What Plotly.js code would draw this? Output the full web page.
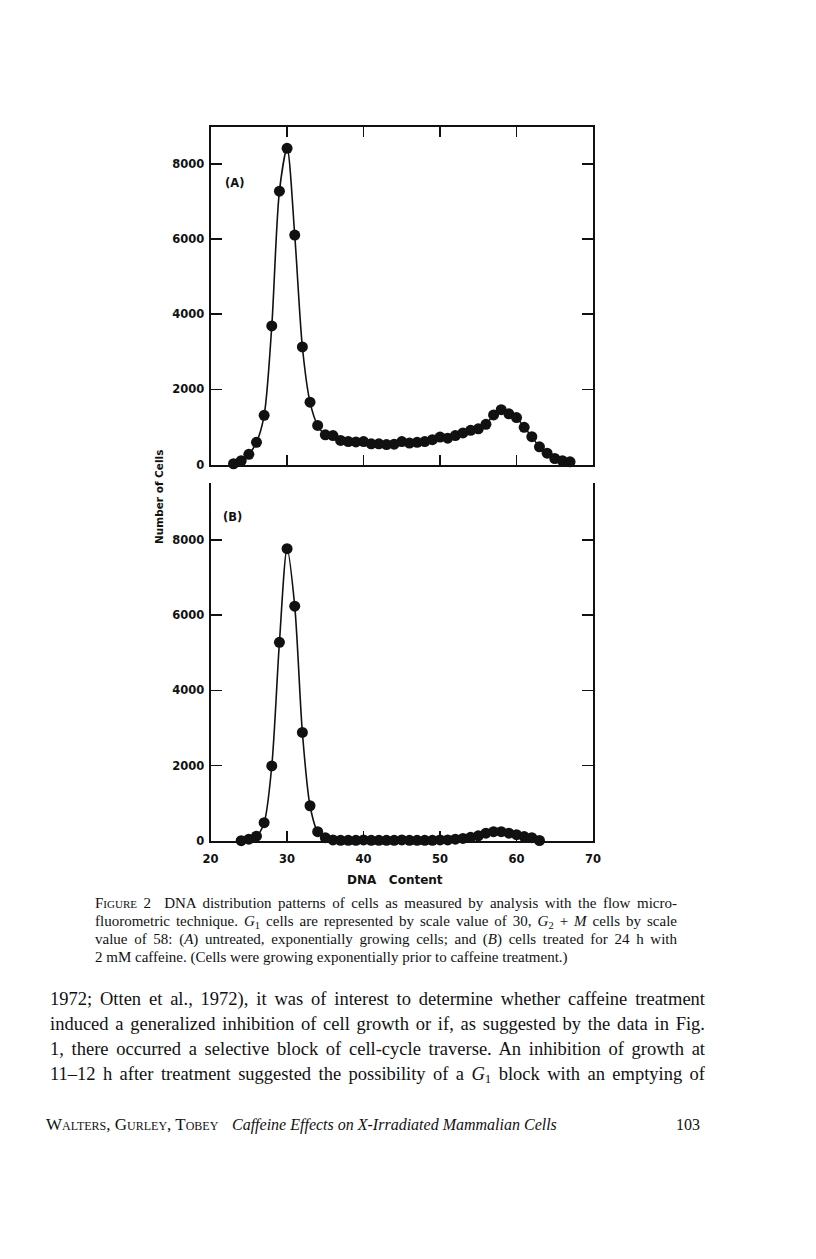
<!DOCTYPE html>
<html>
<head>
<meta charset="utf-8">
<script src="https://cdn.plot.ly/plotly-3.0.1.min.js"></script>
<style>
  html, body { margin:0; padding:0; background:#fff; }
  #wrap { position:relative; width:816px; height:1259px; overflow:hidden; }
  #chart { position:absolute; left:0; top:0; width:816px; height:1259px; }
  .ln { position:absolute; font-family:"Liberation Serif","Times New Roman",serif; color:#111; white-space:normal; }
  .cap { font-size:15px; line-height:18px; height:18px; }
  .bod { font-size:18.5px; line-height:25px; height:25px; }
  .just { text-align:justify; text-align-last:justify; }
  .sc { font-variant:small-caps; }
  sub { font-size:0.7em; vertical-align:-0.25em; line-height:0; }
</style>
</head>
<body>
<div id="wrap">
  <div id="chart"></div>

  <div class="ln cap just" style="left:95px; width:582px; top:894px;"><span class="sc">Figure</span> 2&nbsp; DNA distribution patterns of cells as measured by analysis with the flow micro-</div>
  <div class="ln cap just" style="left:95px; width:582px; top:912px;">fluorometric technique. <i>G</i><sub>1</sub> cells are represented by scale value of 30, <i>G</i><sub>2</sub> + <i>M</i> cells by scale</div>
  <div class="ln cap just" style="left:95px; width:582px; top:930px;">value of 58: (<i>A</i>) untreated, exponentially growing cells; and (<i>B</i>) cells treated for 24 h with</div>
  <div class="ln cap" style="left:95px; width:582px; top:948px;">2 mM caffeine. (Cells were growing exponentially prior to caffeine treatment.)</div>

  <div class="ln bod just" style="left:50px; width:655px; top:987px;">1972; Otten et al., 1972), it was of interest to determine whether caffeine treatment</div>
  <div class="ln bod just" style="left:50px; width:655px; top:1012px;">induced a generalized inhibition of cell growth or if, as suggested by the data in Fig.</div>
  <div class="ln bod just" style="left:50px; width:655px; top:1037px;">1, there occurred a selective block of cell-cycle traverse. An inhibition of growth at</div>
  <div class="ln bod just" style="left:50px; width:655px; top:1062px;">11–12 h after treatment suggested the possibility of a <i>G</i><sub>1</sub> block with an emptying of</div>

  <div class="ln sc" style="left:46px; top:1114px; font-size:17px; line-height:22px;">Walters, Gurley, Tobey</div>
  <div class="ln" style="left:232px; top:1114px; font-size:16px; line-height:22px;"><i>Caffeine Effects on X-Irradiated Mammalian Cells</i></div>
  <div class="ln" style="left:600px; width:100px; text-align:right; top:1114px; font-size:16px; line-height:22px;">103</div>
</div>

<script>
// ---- Data ----
const dnaA = [23,24,25,26,27,28,29,30,31,32,33,34,35,36,37,38,39,40,41,42,43,44,45,
              46,47,48,49,50,51,52,53,54,55,56,57,58,59,60,61,62,63,64,65,66,67];
const cellsA = [20,100,270,590,1310,3690,7280,8420,6110,3130,1660,1040,790,770,640,610,600,610,550,550,530,540,610,
                570,590,610,660,730,700,770,840,910,950,1070,1320,1460,1350,1250,990,740,470,300,160,100,70];

const dnaB = [24,25,26,27,28,29,30,31,32,33,34,35,36,37,38,39,40,41,42,43,
              44,45,46,47,48,49,50,51,52,53,54,55,56,57,58,59,60,61,62,63];
const cellsB = [0,40,120,480,1990,5280,7770,6240,2880,930,240,80,20,10,10,10,20,10,10,10,
                10,20,10,10,10,10,20,20,40,60,90,130,200,240,240,200,160,110,80,5];

const yTickVals = [0,2000,4000,6000,8000];
const yTickText = ['0','2000','4000','6000','8000'];
const xTickVals = [20,30,40,50,60,70];
const xTickText = ['20','30','40','50','60','70'];
const panelLabels = ['(A)','(B)'];
const yTitle = 'Number of Cells';
const xTitle = 'DNA\u00a0\u00a0 Content';

// ---- Layout helpers (pixel -> paper) ----
const W = 816, H = 1259;
const px = v => v / W;
const py = v => 1 - v / H;

const tickFont = {family:'DejaVu Sans, sans-serif', size:11.5, color:'#111', weight:'bold'};
const lineStyle = {color:'#111', width:1.6, shape:'spline', smoothing:0.8};
const markerStyle = {color:'#111', size:11, symbol:'circle'};

const traces = [
  {x:dnaA, y:cellsA, xaxis:'x', yaxis:'y', type:'scatter', mode:'lines+markers',
   line:lineStyle, marker:markerStyle, cliponaxis:false, hoverinfo:'skip'},
  {x:dnaB, y:cellsB, xaxis:'x2', yaxis:'y2', type:'scatter', mode:'lines+markers',
   line:lineStyle, marker:markerStyle, cliponaxis:false, hoverinfo:'skip'}
];

const xDom = [px(210.6), px(593)];
const common = {showgrid:false, zeroline:false, showline:true, linecolor:'#111', linewidth:2,
                ticks:'inside', tickcolor:'#111', tickwidth:1.6, fixedrange:true};

const layout = {
  width:W, height:H, margin:{l:0,r:0,t:0,b:0},
  paper_bgcolor:'#fff', plot_bgcolor:'rgba(0,0,0,0)', showlegend:false,
  xaxis: Object.assign({}, common, {domain:xDom, range:[20,70], anchor:'y', mirror:'ticks',
          ticklen:10, tickvals:xTickVals.slice(1,5), showticklabels:false}),
  yaxis: Object.assign({}, common, {domain:[py(464.5), py(127.3)], range:[0,8980], anchor:'x', mirror:'ticks',
          ticklen:11, tickvals:yTickVals, ticktext:yTickText, tickfont:tickFont, ticklabelstandoff:2}),
  xaxis2: Object.assign({}, common, {domain:xDom, range:[20,70], anchor:'y2', mirror:false,
          ticklen:10, tickvals:xTickVals, ticktext:xTickText, tickfont:tickFont, ticklabelstandoff:6}),
  yaxis2: Object.assign({}, common, {domain:[py(840.7), py(483.3)], range:[0,9510], anchor:'x2', mirror:'ticks',
          ticklen:11, tickvals:yTickVals, ticktext:yTickText, tickfont:tickFont, ticklabelstandoff:2}),
  annotations: [
    {text:panelLabels[0], xref:'paper', yref:'paper', x:px(235), y:py(182.5), xanchor:'center', yanchor:'middle',
     showarrow:false, font:tickFont},
    {text:panelLabels[1], xref:'paper', yref:'paper', x:px(232), y:py(517), xanchor:'center', yanchor:'middle',
     showarrow:false, font:tickFont},
    {text:yTitle, xref:'paper', yref:'paper', x:px(159), y:py(497), xanchor:'center', yanchor:'middle',
     textangle:-90, showarrow:false, font:{family:'DejaVu Sans, sans-serif', size:10.5, color:'#111', weight:'bold'}},
    {text:xTitle, xref:'paper', yref:'paper', x:px(394.5), y:py(880), xanchor:'center', yanchor:'middle',
     showarrow:false, font:{family:'DejaVu Sans, sans-serif', size:12, color:'#111', weight:'bold'}}
  ]
};

Plotly.newPlot('chart', traces, layout, {staticPlot:true, displayModeBar:false});
</script>
</body>
</html>
